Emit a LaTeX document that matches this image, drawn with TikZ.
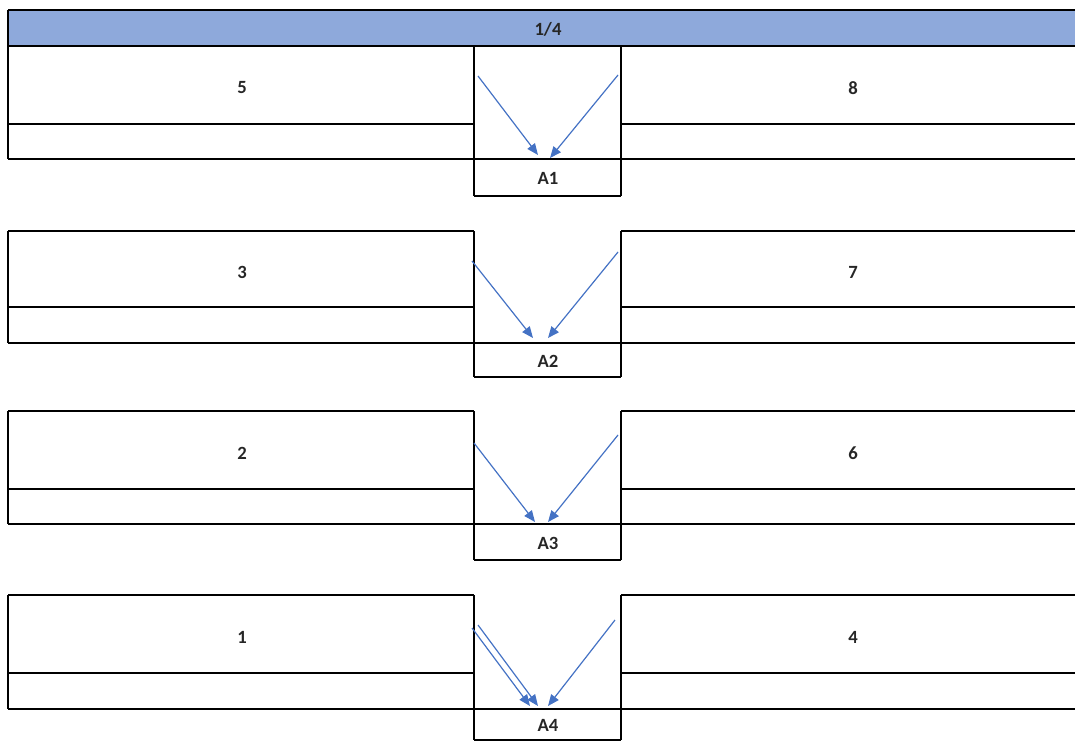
\documentclass[tikz,border=0pt]{standalone}
\usepackage{fontspec}
\setmainfont{Carlito}
\usetikzlibrary{arrows.meta}
\definecolor{hdrblue}{HTML}{8EA9DB}
\definecolor{arrblue}{HTML}{4472C4}
\tikzset{
  grid/.style={black, line width=1.5pt},
  lbl/.style={font=\fontsize{14}{16}\selectfont\bfseries, text=black!85, inner sep=0pt},
  flow/.style={arrblue, line width=0.9pt, -{Triangle[length=8.5pt,width=7pt]}}
}
\begin{document}
\begin{tikzpicture}[x=0.75pt,y=-0.75pt]
\useasboundingbox (0,0) rectangle (1075,742);
% header
\fill[hdrblue] (8,10) rectangle (1075,46);
\draw[grid] (8,10) -- (1075,10);
\draw[grid] (8,46) -- (1075,46);
\draw[grid] (8,10) -- (8,159);
\node[lbl] (H) at (548,29) {1/4};
% blocks: top, row, bottom, A-bottom, left label, right label, A label, name suffix
\foreach \T/\R/\B/\C/\la/\ra/\al/\n in {46/124/159/196/5/8/A1/1, 231/307/343/377/3/7/A2/2, 411/489/524/560/2/6/A3/3, 595/673/709/740/1/4/A4/4}{
  \ifnum\n>1
    \draw[grid] (8,\T) -- (474,\T);
    \draw[grid] (621,\T) -- (1075,\T);
    \draw[grid] (8,\T) -- (8,\B);
  \fi
  \draw[grid] (8,\R) -- (474,\R);
  \draw[grid] (621,\R) -- (1075,\R);
  \draw[grid] (8,\B) -- (1075,\B);
  \draw[grid] (474,\C) -- (621,\C);
  \draw[grid] (474,\T) -- (474,\C);
  \draw[grid] (621,\T) -- (621,\C);
  \node[lbl] (L\n) at (242,{(\T+\R)/2+3}) {\la};
  \node[lbl] (R\n) at (853,{(\T+\R)/2+3}) {\ra};
  \node[lbl] (A\n) at (548,{(\B+\C)/2+1}) {\al};
}
% arrow end points
\coordinate (s1a) at (478,76);  \coordinate (e1a) at (538,155);
\coordinate (s1b) at (618,75);  \coordinate (e1b) at (550,158);
\coordinate (s2a) at (472,261); \coordinate (e2a) at (533,338);
\coordinate (s2b) at (618,252); \coordinate (e2b) at (548,338);
\coordinate (s3a) at (474,443); \coordinate (e3a) at (535,522);
\coordinate (s3b) at (618,435); \coordinate (e3b) at (548,522);
\coordinate (s4a) at (472,628); \coordinate (e4a) at (530,706);
\coordinate (s4c) at (478,625); \coordinate (e4c) at (538,706);
\coordinate (s4b) at (615,620); \coordinate (e4b) at (548,706);
\draw[flow] (s1a) -- (e1a);
\draw[flow] (s1b) -- (e1b);
\draw[flow] (s2a) -- (e2a);
\draw[flow] (s2b) -- (e2b);
\draw[flow] (s3a) -- (e3a);
\draw[flow] (s3b) -- (e3b);
\draw[flow] (s4a) -- (e4a);
\draw[flow] (s4c) -- (e4c);
\draw[flow] (s4b) -- (e4b);
\end{tikzpicture}
\end{document}
